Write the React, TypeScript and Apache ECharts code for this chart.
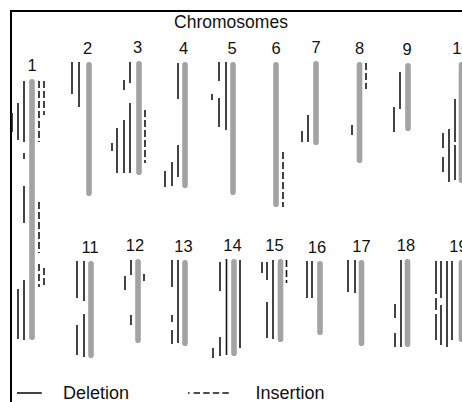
import React, { useEffect, useRef } from "react";
import * as echarts from "echarts";

// Chromosome layout (x = column position, start/end = extent along the chromosome axis)
const chromNames = ["1","2","3","4","5","6","7","8","9","10","11","12","13","14","15","16","17","18","19"];
const chromX = [32, 89, 139, 185, 233, 276, 316, 359.5, 408, 461.5, 91, 138, 185, 234, 280.5, 320, 361.5, 407.5, 461.5];
const chromStart = [79, 62, 61, 62, 62, 62, 61, 62, 63, 62, 261, 259, 260, 259, 259, 261, 260, 259, 260];
const chromEnd = [340, 196, 175, 188, 195, 207, 145, 163, 131, 183, 358, 343, 346, 356, 342, 335, 346, 347, 342];
const labelShift = [0, -1.5, -1.5, -1.5, -1, 0, 0, 0, -1, 0, -1, -3, -1.5, -1.5, -6, -3, 0, -1.5, -3];

// Deletions: [x, start, end]
const deletions: number[][] = [
  [24, 81, 142], [18, 103, 140], [12, 113, 132], [24, 153, 159], [24, 186, 223], [24, 280, 340], [18, 289, 339],
  [72, 62, 94], [79, 62, 107],
  [130, 62, 83], [124, 80, 90], [130, 103, 173], [124, 120, 173], [117, 128, 173], [112, 143, 151],
  [178, 63, 99], [178, 145, 177], [172, 162, 186], [165, 171, 187],
  [219, 62, 81], [226, 62, 130], [219, 98, 127], [212, 94, 100],
  [308, 115, 142], [302, 131, 142],
  [352, 125, 135],
  [400, 72, 109], [394, 107, 132],
  [455, 99, 142], [455, 145, 180], [449, 129, 182], [443, 133, 148], [443, 157, 172],
  [84, 261, 301], [77, 261, 298], [84, 314, 357], [77, 325, 355],
  [131, 260, 275], [125, 276, 290], [131, 315, 325],
  [178, 260, 343], [172, 260, 287], [172, 315, 322], [172, 330, 344],
  [240, 260, 348], [226.5, 259, 355], [220, 262, 291], [220, 337, 356], [213, 348, 358],
  [273, 260, 339], [267, 302, 338], [267, 262, 280], [262, 262, 273],
  [312, 261, 298], [307, 261, 298],
  [355, 260, 293], [348, 260, 292],
  [401, 260, 347], [395, 304, 318], [395, 333, 347],
  [436, 261, 294], [436, 298, 310], [436, 314, 340], [441, 261, 298], [441, 305, 345], [447, 261, 347], [452, 261, 340],
];

// Insertions: [x, start, end]
const insertions: number[][] = [
  [39, 81, 142], [44, 81, 115], [39, 202, 253], [39, 264, 287], [44, 268, 287],
  [145, 110, 163],
  [283, 152, 207],
  [366, 63, 89],
  [144, 274, 283],
  [286.5, 260, 283],
];

const FONT = "'Liberation Sans', Arial, Helvetica, sans-serif";

export default function App() {
  const ref = useRef<HTMLDivElement>(null);
  useEffect(() => {
    if (!ref.current) return;
    const chart = echarts.init(ref.current, undefined, { renderer: "svg" });
    const chromData = chromNames.map((n, i) => [chromX[i], chromStart[i], chromEnd[i], labelShift[i]]);

    const segRender = (dash: number[] | null) => (params: any, api: any) => {
      const x = api.value(0);
      const p1 = api.coord([x, api.value(1)]);
      const p2 = api.coord([x, api.value(2)]);
      return {
        type: "line",
        shape: { x1: p1[0], y1: p1[1], x2: p2[0], y2: p2[1] },
        style: { stroke: "#151515", lineWidth: 1.6, lineDash: dash || undefined, fill: null },
      };
    };

    chart.setOption({
      animation: false,
      backgroundColor: "#ffffff",
      title: {
        text: "Chromosomes",
        left: "center",
        top: 13,
        padding: 0,
        textStyle: { fontFamily: FONT, fontSize: 17.5, fontWeight: "normal", color: "#111" },
      },
      grid: { left: 0, right: 0, top: 0, bottom: 0 },
      xAxis: { type: "value", min: 0, max: 462, show: false },
      yAxis: { type: "value", min: 0, max: 402, inverse: true, show: false },
      legend: [
        {
          data: [{ name: "Deletion", icon: "path://M0,0h31v2h-31z" }],
          left: 17,
          top: 384,
          padding: 0,
          itemWidth: 31,
          itemHeight: 1.6,
          selectedMode: false,
          textStyle: { fontFamily: FONT, fontSize: 18, color: "#111", padding: [0, 0, 0, 13] },
        },
        {
          data: [{ name: "Insertion", icon: "path://M0,0h2v2h-2z M7,0h8v2h-8z M19,0h8v2h-8z M31,0h8v2h-8z M43,0h8v2h-8z" }],
          left: 188,
          top: 384,
          padding: 0,
          itemWidth: 52,
          itemHeight: 1.6,
          selectedMode: false,
          textStyle: { fontFamily: FONT, fontSize: 18, color: "#111", padding: [0, 0, 0, 16] },
        },
      ],
      graphic: [
        { type: "line", shape: { x1: 10, y1: 11, x2: 462, y2: 11 }, style: { stroke: "#000", lineWidth: 2 } },
        { type: "line", shape: { x1: 11, y1: 10, x2: 11, y2: 402 }, style: { stroke: "#000", lineWidth: 2 } },
      ],
      series: [
        {
          type: "custom",
          name: "Chromosome",
          data: chromData,
          encode: { x: 0, y: [1, 2] },
          renderItem: (params: any, api: any) => {
            const x = api.value(0);
            const p1 = api.coord([x, api.value(1)]);
            const p2 = api.coord([x, api.value(2)]);
            const w = 5.6;
            return {
              type: "group",
              children: [
                {
                  type: "rect",
                  shape: { x: p1[0] - w / 2, y: p1[1], width: w, height: p2[1] - p1[1], r: w / 2 },
                  style: { fill: "#a3a3a3" },
                },
                {
                  type: "text",
                  x: p1[0] + api.value(3),
                  y: p1[1] - 14,
                  style: {
                    text: chromNames[params.dataIndex],
                    fontFamily: FONT,
                    fontSize: 16.5,
                    fill: "#111",
                    align: "center",
                    verticalAlign: "middle",
                  },
                },
              ],
            };
          },
        },
        {
          type: "custom",
          name: "Deletion",
          data: deletions,
          encode: { x: 0, y: [1, 2] },
          itemStyle: { color: "#151515" },
          renderItem: segRender(null),
        },
        {
          type: "custom",
          name: "Insertion",
          data: insertions,
          encode: { x: 0, y: [1, 2] },
          itemStyle: { color: "#151515" },
          renderItem: segRender([7, 3]),
        },
      ],
    });
    return () => chart.dispose();
  }, []);
  return (
    <div
      ref={ref}
      style={{ position: "fixed", left: 0, top: 0, width: 462, height: 402, background: "#fff" }}
    />
  );
}
